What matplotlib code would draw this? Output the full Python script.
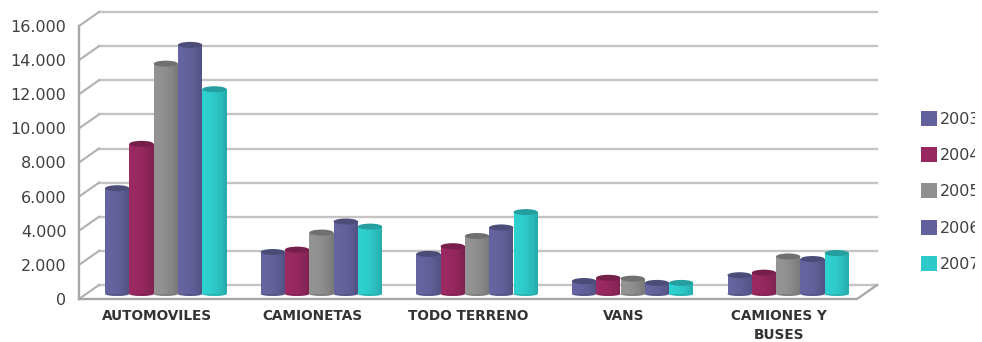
import matplotlib
matplotlib.use("Agg")
import matplotlib.pyplot as plt
from matplotlib.patches import Ellipse, Patch, Rectangle
import numpy as np

categorias = ["AUTOMOVILES", "CAMIONETAS", "TODO TERRENO", "VANS", "CAMIONES Y\nBUSES"]
anios = ["2003", "2004", "2005", "2006", "2007"]
v2003 = [6200, 2460, 2350, 760, 1100]
v2004 = [8800, 2600, 2800, 950, 1250]
v2005 = [13500, 3600, 3400, 900, 2200]
v2006 = [14600, 4250, 3900, 650, 2050]
v2007 = [12000, 3950, 4800, 650, 2400]
series = [v2003, v2004, v2005, v2006, v2007]
colores = ["#62619b", "#96285f", "#8f8f8f", "#62619b", "#2ecaca"]
ticks = [0, 2000, 4000, 6000, 8000, 10000, 12000, 14000, 16000]
tick_labels = ["0", "2.000", "4.000", "6.000", "8.000", "10.000", "12.000", "14.000", "16.000"]

W, H = 982, 342
fig = plt.figure(figsize=(W / 100, H / 100), dpi=100)
# ejes = plano frontal del grafico 3D
x0, x1, ytop, ybot = 79, 857, 26, 299
ax = fig.add_axes([x0 / W, 1 - ybot / H, (x1 - x0) / W, (ybot - ytop) / H])
ax.set_xlim(0, 5)
ax.set_ylim(0, 16000)
ax.patch.set_visible(False)
for s in ax.spines.values():
    s.set_visible(False)

px_x = 5 / (x1 - x0)
px_y = 16000 / (ybot - ytop)
dx, dy = 20 * px_x, 14 * px_y  # profundidad de las paredes
gris = "#c4c4c4"

# paredes y rejilla
for t in ticks:
    ax.plot([dx, 5 + dx], [t + dy, t + dy], color=gris, lw=1.7, clip_on=False, zorder=1)
    ax.plot([0, dx], [t, t + dy], color="#b0b0b0", lw=1.5, clip_on=False, zorder=1)
ax.plot([0, 0], [0, 16000], color="#a8a8a8", lw=1.7, clip_on=False, zorder=2)
ax.plot([0, 5, 5 + dx], [0, 0, dy], color="#a8a8a8", lw=1.7, clip_on=False, zorder=2)

# barras cilindricas: cada franja tapa hasta el borde derecho para evitar costuras
ancho = 24.2 * px_x
paso = 24.3 * px_x
off_x, off_y = 9 * px_x, 5 * px_y
n = 10
for i, (vals, col) in enumerate(zip(series, colores)):
    base = np.array(matplotlib.colors.to_rgb(col))
    for j, v in enumerate(vals):
        xc = j + 0.5 + off_x + (i - 2) * paso
        z = 3 + i * 0.1
        ax.add_patch(Ellipse((xc, off_y), ancho, 4 * px_y, color=base * 0.88, lw=0, zorder=z, clip_on=False))
        for k in range(n):
            f = k / (n - 1)
            c = np.clip(base * (1.03 - 0.17 * f ** 2), 0, 1)
            izq = xc - ancho / 2 + k * ancho / n
            ax.bar(izq, v, ancho * (n - k) / n, bottom=off_y, align="edge",
                   color=c, lw=0, zorder=z, clip_on=False)
        ax.add_patch(Ellipse((xc, v + off_y), ancho, 6 * px_y, color=base * 0.78, lw=0, zorder=z + 0.05, clip_on=False))

ax.set_yticks(ticks, tick_labels, fontsize=11.5, color="#404040")
ax.set_xticks([j + 0.5 for j in range(5)], categorias, fontsize=9.8, fontweight="bold",
              color="#333333", linespacing=1.5)
ax.tick_params(axis="both", length=0)
ax.tick_params(axis="y", pad=9)
ax.tick_params(axis="x", pad=7)

handles = [Patch(facecolor=c, edgecolor="none") for c in colores]
ley = ax.legend(handles, anios, loc="upper left", bbox_to_anchor=(916 / W, 1 - 106 / H), bbox_transform=fig.transFigure,
                frameon=False, fontsize=11.5, labelcolor="#404040", handlelength=1.0, handleheight=1.05,
                handletextpad=0.2, labelspacing=1.28, borderpad=0.3, borderaxespad=0)
# en el original los textos de la leyenda quedan cortados a la derecha
recorte = Rectangle((0, 0), 975 / W, 1, transform=fig.transFigure)
for t in ley.get_texts():
    t.set_clip_path(recorte)
    t.set_clip_on(True)

fig.savefig("out.png", dpi=100)
